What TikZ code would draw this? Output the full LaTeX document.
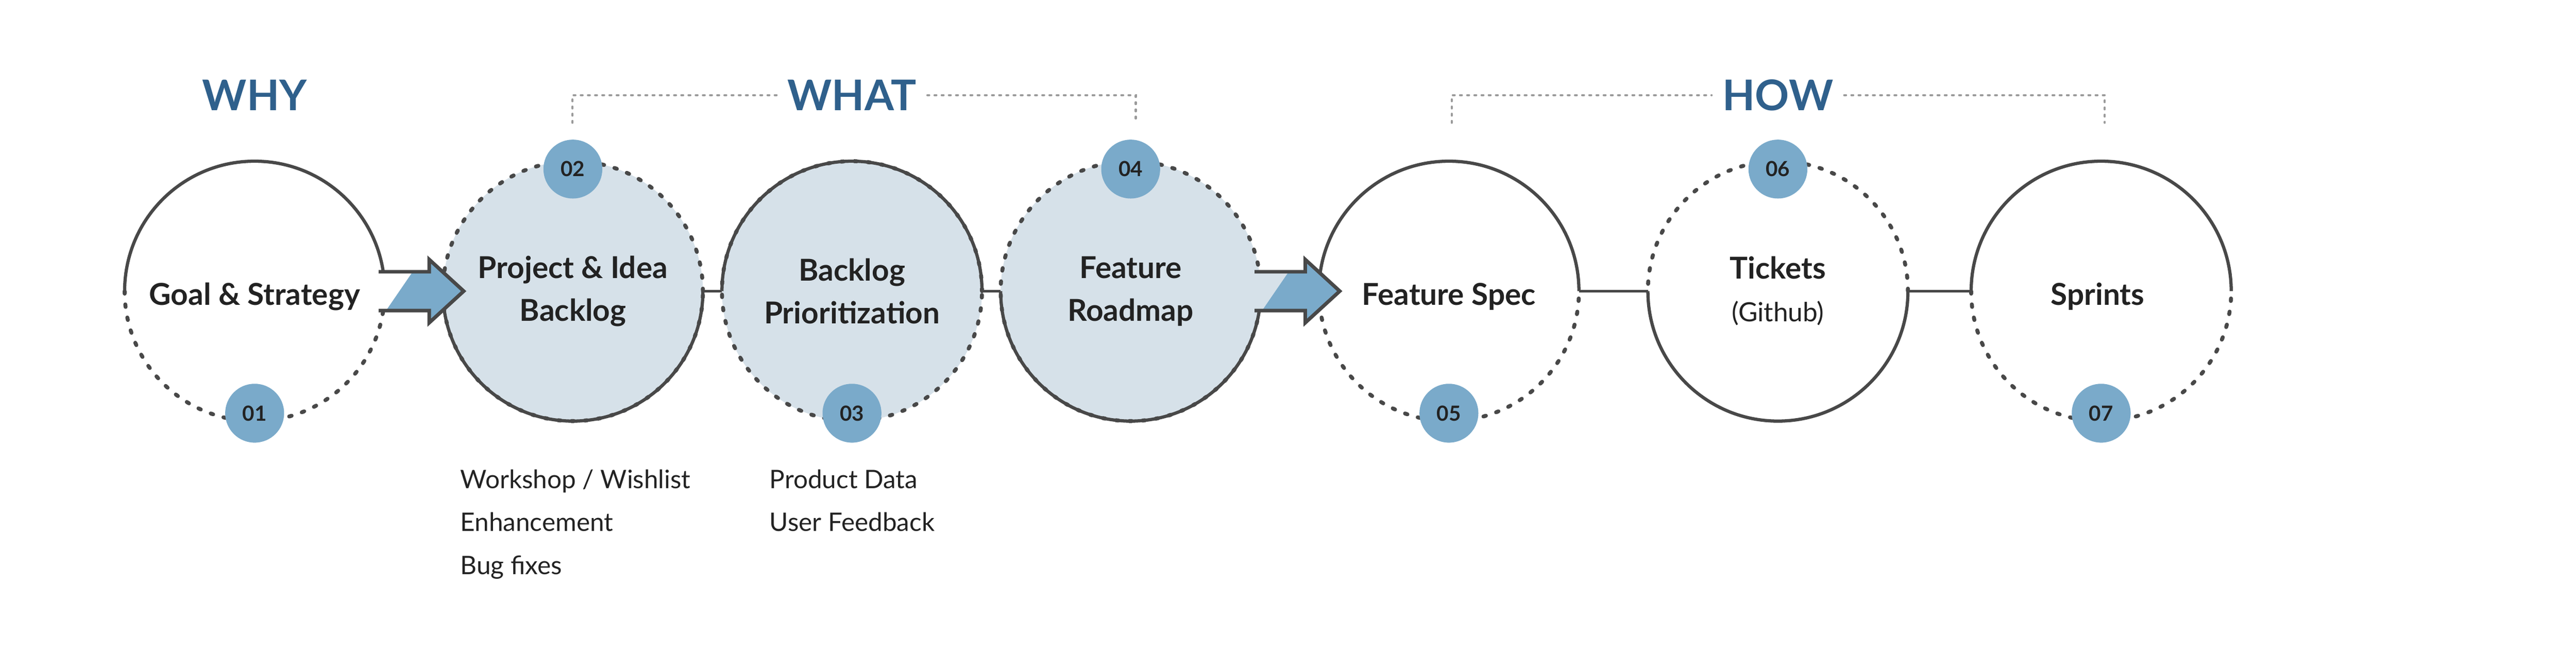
\documentclass[tikz,border=0pt]{standalone}
\usepackage{xcolor}
\usepackage{tikz}
\usepackage{fontspec}
\setmainfont{Lato}

\definecolor{linegray}{RGB}{72,72,72}
\definecolor{paleblue}{RGB}{214,225,233}
\definecolor{stepblue}{RGB}{122,170,202}
\definecolor{titleblue}{RGB}{47,96,140}
\definecolor{textdark}{RGB}{34,34,34}
\definecolor{bracketgray}{RGB}{155,155,155}

\begin{document}
\begin{tikzpicture}[
    stage/.style={circle, minimum size=7.24cm, inner sep=0pt, outer sep=0pt},
    stagetext/.style={align=center, inner sep=0pt, text=textdark, font=\bfseries\fontsize{23.9}{33.9}\selectfont},
    solidline/.style={draw=linegray, line width=0.09cm},
    dotline/.style={draw=linegray, line width=0.11cm, line cap=round, dash pattern=on 0.07cm off 0.30cm},
    badge/.style={circle, fill=stepblue, minimum size=1.64cm, inner sep=0pt,
      text=textdark, font=\bfseries\fontsize{16.5}{18}\selectfont},
    title/.style={text=titleblue, inner xsep=0.3cm, inner ysep=0pt, font=\bfseries\fontsize{33.5}{36}\selectfont},
    bracket/.style={draw=bracketgray, line width=0.06cm, line cap=round, dash pattern=on 0.05cm off 0.15cm},
    item/.style={anchor=base west, inner sep=0pt, text=textdark, font=\fontsize{20.2}{24}\selectfont}
  ]
  \fill[white] (0,0) rectangle (71.72,18.24);
  \useasboundingbox (0,0) rectangle (71.72,18.24);

  \foreach \x/\n/\col/\dy/\lab in {
      7.09/1/white/-0.15/{Goal \& Strategy},
      15.95/2/paleblue/0/{Project \& Idea\\Backlog},
      23.72/3/paleblue/0/{Backlog\\Prioritization},
      31.48/4/paleblue/0/{Feature\\Roadmap},
      40.34/5/white/-0.15/{Feature Spec},
      49.50/6/white/0/{Tickets\\{\mdseries\fontsize{21}{33.9}\selectfont (Github)}},
      58.50/7/white/-0.15/{Sprints}
    } {
    \node[stage, fill=\col] (c\n) at (\x,10.13) {};
    \node[stagetext, yshift=\dy cm] (t\n) at (c\n) {\lab};
  }

  \foreach \n in {1,3,5,7}
    \draw[solidline] (c\n.east) arc[start angle=0, end angle=180, radius=3.62cm];
  \foreach \n in {2,4,6}
    \draw[solidline] (c\n.west) arc[start angle=180, end angle=360, radius=3.62cm];
  \foreach \n in {1,5,7}
    \draw[dotline] (c\n.west) arc[start angle=180, end angle=360, radius=3.62cm];
  \draw[dotline] (c6.east) arc[start angle=0, end angle=180, radius=3.62cm];
  \foreach \n in {2,3,4}
    \draw[dotline] (c\n) circle[radius=3.62cm];

  \foreach \a/\b in {c2/c3, c3/c4, c5/c6, c6/c7}
    \draw[solidline, line width=0.08cm] (\a.east) -- (\b.west);

  \foreach \a/\col in {c1/white, c4/paleblue} {
    \begin{scope}[shift={(\a.center)}]
      \fill[\col] (3.45,0.54) rectangle (4.86,-0.54);
      \fill[stepblue] (4.40,0.54) -- (4.86,0.54) -- (4.86,0.88) -- (5.82,0) -- (4.86,-0.88)
        -- (4.86,-0.54) -- (3.66,-0.54) -- cycle;
      \draw[linegray, line width=0.1cm] (3.45,0.54) -- (4.86,0.54) -- (4.86,0.88) -- (5.82,0)
        -- (4.86,-0.88) -- (4.86,-0.54) -- (3.45,-0.54);
    \end{scope}
  }

  \foreach \n/\s in {1/-1, 2/1, 3/-1, 4/1, 5/-1, 6/1, 7/-1}
    \node[badge, yshift=\s*3.4cm] (b\n) at (c\n) {0\n};

  \node[title] (why) at (7.09,15.59) {WHY};
  \node[title] (what) at (23.72,15.59) {WHAT};
  \node[title] (how) at (49.50,15.59) {HOW};

  \coordinate (whatL) at (15.94,14.82);
  \coordinate (whatR) at (31.62,14.82);
  \coordinate (howL) at (40.42,14.82);
  \coordinate (howR) at (58.60,14.82);
  \draw[bracket] (whatL) |- (what.west);
  \draw[bracket] (what.east) -| (whatR);
  \draw[bracket] (howL) |- (how.west);
  \draw[bracket] (how.east) -| (howR);

  \foreach \t [count=\i] in {Workshop / Wishlist, Enhancement, Bug fixes}
    \node[item] (idea\i) at (12.81,5.84-1.2*\i) {\t};
  \foreach \t [count=\i] in {Product Data, User Feedback}
    \node[item] (prio\i) at (21.42,5.84-1.2*\i) {\t};
\end{tikzpicture}
\end{document}
